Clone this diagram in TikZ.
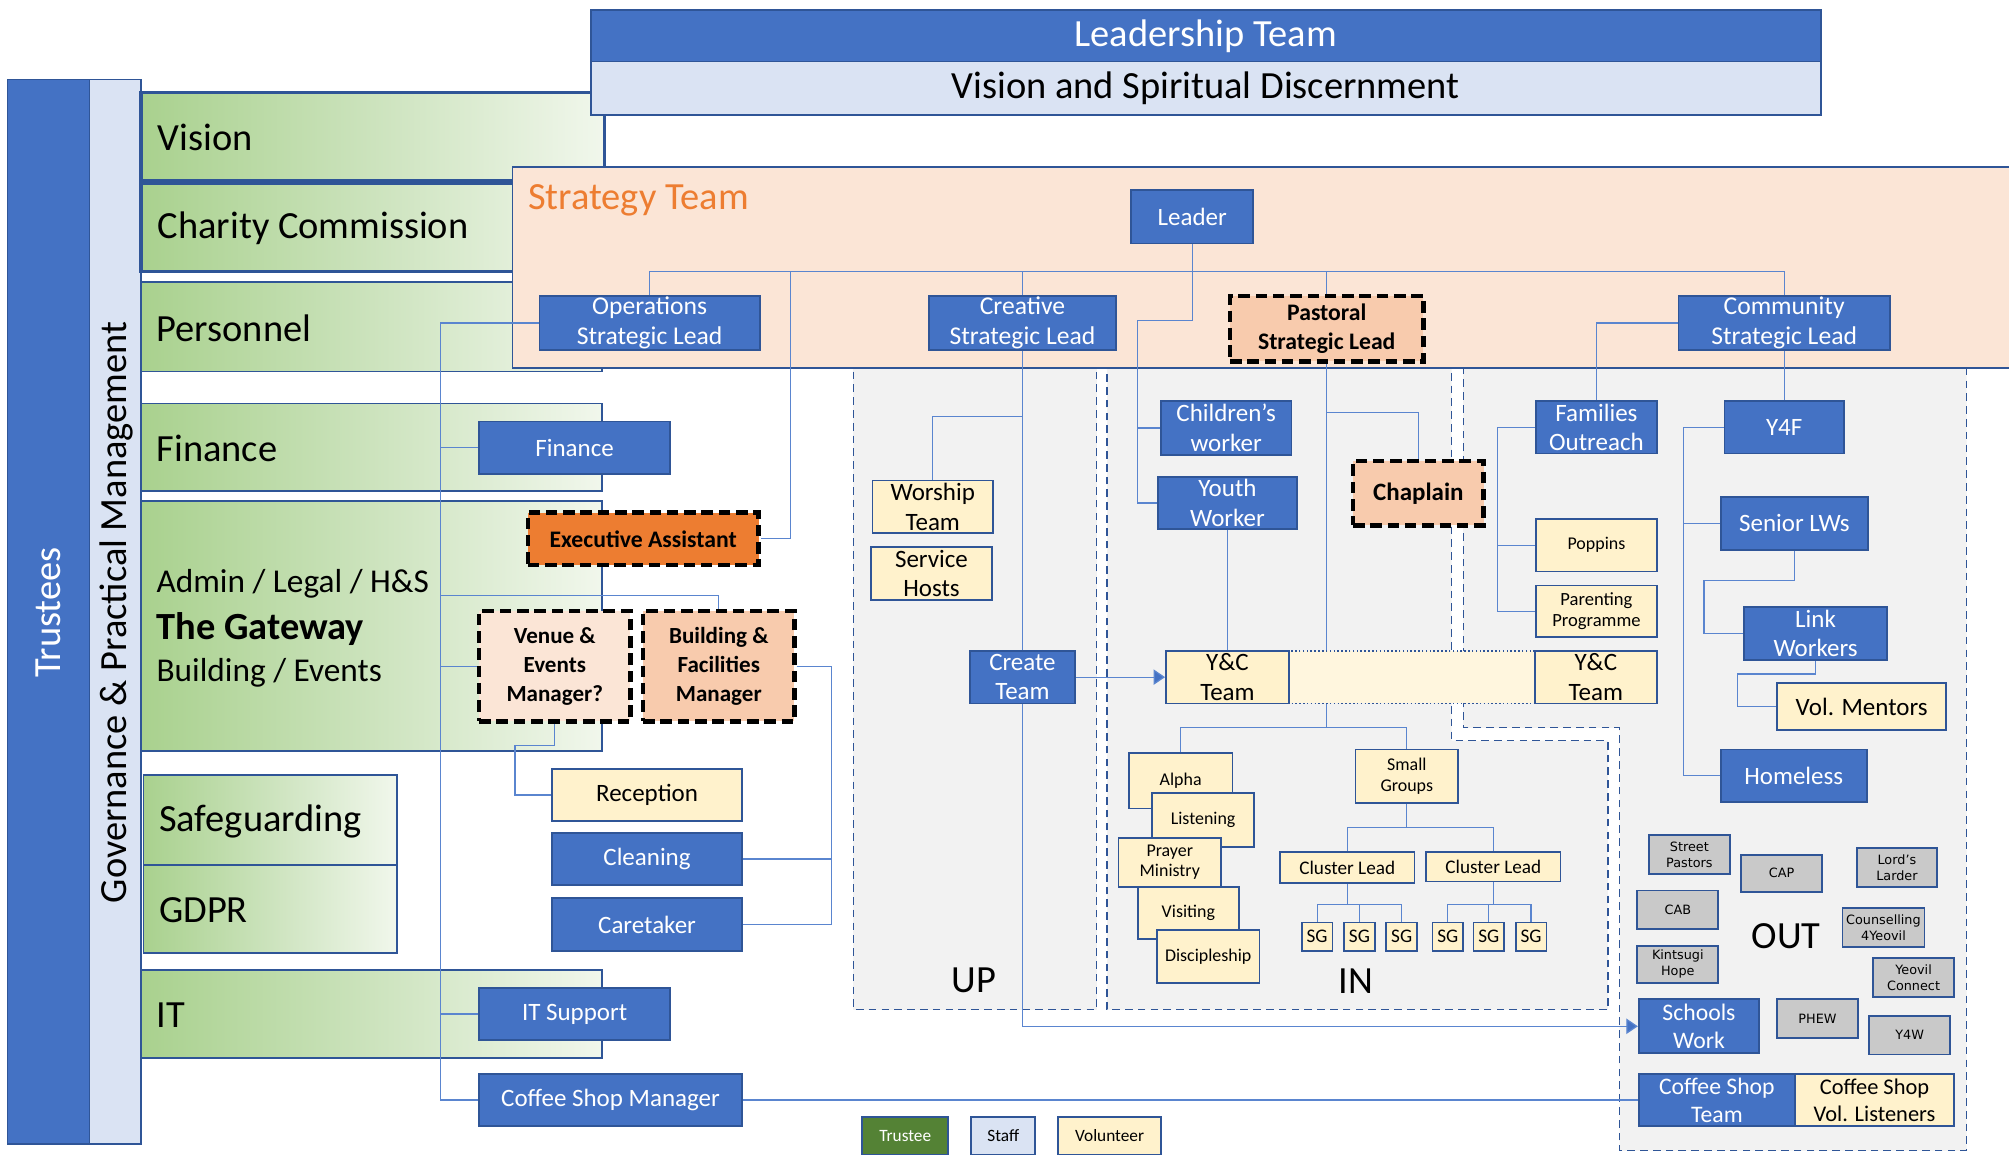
\documentclass[tikz,border=0pt]{standalone}
\usepackage{fontspec}
\setmainfont{Carlito}
\newfontfamily\gfont{DejaVu Sans}
\usetikzlibrary{arrows.meta}
\definecolor{blu}{HTML}{4472C4}
\definecolor{bord}{HTML}{2F5597}
\definecolor{lblu}{HTML}{DAE3F3}
\definecolor{yel}{HTML}{FFF2CC}
\definecolor{pch}{HTML}{FBE5D6}
\definecolor{pch2}{HTML}{F8CBAD}
\definecolor{org}{HTML}{ED7D31}
\definecolor{gry}{HTML}{C9C9C9}
\definecolor{reg}{HTML}{F2F2F2}
\definecolor{gA}{HTML}{A9D18E}
\definecolor{gB}{HTML}{CCE3BD}
\definecolor{gC}{HTML}{F1F7EC}
\definecolor{lnk}{HTML}{5A85CF}
\definecolor{trg}{HTML}{548235}
\definecolor{band}{HTML}{FFF6DE}
\pgfdeclarelayer{back}
\pgfdeclarelayer{lines}
\pgfsetlayers{back,lines,main}
\newcommand\myfs[2]{\fontsize{#1}{#2}\selectfont}
\newcommand\mybox[7]{%
  \pgfmathsetmacro\cbw{#5-#3}\pgfmathsetmacro\cbh{#6-#4}%
  \pgfmathsetmacro\cbx{(#3+#5)/2}\pgfmathsetmacro\cby{(#4+#6)/2}%
  \node[#1, minimum width=\cbw pt, minimum height=\cbh pt] (#2) at (\cbx,\cby) {#7};}
\tikzset{
  bx/.style={draw=bord, line width=1.4pt, inner sep=0pt, align=center, fill=blu, text=white, font=\myfs{19.5}{23}},
  yb/.style={bx, fill=yel, text=black},
  pb/.style={bx, fill=pch2, text=black},
  dsh/.style={draw=black, line width=3.5pt, dash pattern=on 9pt off 4.5pt},
  gb/.style={bx, fill=gry, text=black, line width=1.5pt, font=\gfont\myfs{10}{12.5}},
  sm/.style={yb, font=\myfs{14}{16}},
  grn/.style={draw=bord, line width=1.3pt, left color=gA, right color=gC, middle color=gB, inner sep=0pt},
  lbl/.style={anchor=west, inner sep=0pt, font=\myfs{30}{32}},
  rg/.style={fill=reg, draw=bord, line width=1.1pt, dash pattern=on 6pt off 4pt},
  ln/.style={draw=lnk, line width=1pt},
  arr/.style={ln, -{Triangle[length=9pt,width=12pt,fill=blu]}},
}
\begin{document}
\begin{tikzpicture}[x=1pt,y=-1pt]
\useasboundingbox (0,0) rectangle (1568,901);
\begin{pgfonlayer}{back}
\fill[white] (0,0) rectangle (1568,901);
% governance bars
\mybox{draw=bord, line width=1.2pt, fill=blu}{trbar}{6}{62}{70}{893}{}
\mybox{draw=bord, line width=1.2pt, fill=lblu}{gvbar}{70}{62}{110}{893}{}
% green boxes
\mybox{grn, line width=2.5pt}{gvis}{110}{72}{472}{141}{}
\mybox{grn, line width=2.5pt}{gcha}{110}{143}{472}{212}{}
\mybox{grn}{gper}{110}{220}{470}{290}{}
\mybox{grn}{gfin}{110}{315}{470}{383}{}
\mybox{grn}{gadm}{110}{391}{470}{586}{}
\mybox{grn}{gsaf}{112}{605}{310}{675}{}
\mybox{grn}{ggdp}{112}{675}{310}{744}{}
\mybox{grn}{git}{110}{757}{470}{826}{}
% regions
\path[rg] (666,280) rectangle (856,788);
\path[rg] (864,280) -- (1133,280) -- (1133,578) -- (1255,578) -- (1255,788) -- (864,788) -- cycle;
\path[rg] (1142,280) -- (1535,280) -- (1535,898) -- (1264,898) -- (1264,568) -- (1142,568) -- cycle;
% strategy band
\mybox{draw=bord, line width=1.5pt, fill=pch}{stband}{400}{130}{1580}{287}{}
% leadership
\mybox{draw=bord, line width=1.5pt, fill=blu, text=white, font=\myfs{30}{32}, inner sep=0pt}{lead}{461}{8}{1421}{48}{\raisebox{-2pt}{Leadership Team}}
\mybox{draw=bord, line width=1.5pt, fill=lblu, font=\myfs{30}{32}, inner sep=0pt}{vsd}{461}{48}{1421}{90}{\raisebox{-2pt}{Vision and Spiritual Discernment}}
\end{pgfonlayer}

% labels
\node[rotate=90, text=white, font=\myfs{30}{32}] (ttr) at (38,478) {Trustees};
\node[rotate=90, font=\myfs{30}{32}] (tgv) at (91,478) {Governance \& Practical Management};
\node[lbl] (tvis) at (123,107.5) {Vision};
\node[lbl] (tcha) at (123,178.5) {Charity Commission};
\node[lbl] (tper) at (122,256) {Personnel};
\node[lbl] (tfin) at (122,350) {Finance};
\node[lbl, font=\myfs{26}{28}] (tadm) at (122,456) {Admin / Legal / H\&S};
\node[lbl, font=\myfs{30}{32}\bfseries] (tgat) at (122,491) {The Gateway};
\node[lbl, font=\myfs{26}{28}] (tbui) at (122,525) {Building / Events};
\node[lbl] (tsaf) at (124,641) {Safeguarding};
\node[lbl] (tgdp) at (124,710.5) {GDPR};
\node[lbl] (tit) at (122,792.5) {IT};
\node[lbl, text=org] (tst) at (412,156) {Strategy Team};
\node[font=\myfs{30}{32}] (tup) at (760,765) {UP};
\node[font=\myfs{30}{32}] (tin) at (1058,766) {IN};
\node[font=\myfs{30}{32}] (tout) at (1394,731) {OUT};

% strategy team
\mybox{bx}{leader}{883}{148}{978}{190}{Leader}
\mybox{bx, font=\myfs{20}{24}}{ops}{421}{231}{593}{273}{Operations\\Strategic Lead}
\mybox{bx, font=\myfs{20}{24}}{cre}{725}{231}{871}{273}{Creative\\Strategic Lead}
\mybox{pb, dsh, font=\myfs{18.5}{23}\bfseries}{past}{960}{231}{1111}{282}{Pastoral\\Strategic Lead}
\mybox{bx, font=\myfs{20}{24}}{comm}{1310}{231}{1475}{273}{Community\\Strategic Lead}
% operations side
\mybox{bx}{fin}{374}{329}{523}{370}{Finance}
\mybox{bx, fill=org, text=black, dsh, font=\myfs{18.5}{22}\bfseries}{ea}{412}{400}{592}{441}{Executive Assistant}
\mybox{pb, fill=pch, dsh, font=\myfs{18}{22.5}\bfseries}{ven}{374}{477}{492}{563}{Venue \&\\Events\\Manager?}
\mybox{pb, dsh, font=\myfs{18}{22.5}\bfseries}{bf}{502}{477}{620}{563}{Building \&\\Facilities\\Manager}
\mybox{yb}{rec}{431}{600}{579}{641}{Reception}
\mybox{bx}{clean}{431}{650}{579}{691}{Cleaning}
\mybox{bx}{care}{431}{701}{579}{742}{Caretaker}
\mybox{bx}{its}{374}{771}{523}{812}{IT Support}
\mybox{bx}{csm}{374}{838}{579}{879}{Coffee Shop Manager}
% UP
\mybox{yb}{wor}{681}{375}{775}{416}{Worship\\Team}
\mybox{yb}{svc}{680}{427}{774}{468}{Service\\Hosts}
\mybox{bx}{create}{757}{508}{839}{549}{Create\\Team}
% IN
\mybox{bx}{child}{906}{313}{1008}{355}{Children’s\\worker}
\mybox{bx}{youth}{904}{372}{1012}{413}{Youth\\Worker}
\mybox{pb, dsh, font=\myfs{19.5}{22}\bfseries}{chap}{1056}{360}{1158}{410}{Chaplain}
\mybox{draw=bord, line width=1pt, dash pattern=on 1.2pt off 1.8pt, fill=band}{ycband}{1005}{508}{1198}{549}{}
\mybox{yb}{yc1}{910}{508}{1006}{549}{Y\&C\\Team}
\mybox{yb}{yc2}{1198}{508}{1293}{549}{Y\&C\\Team}
\mybox{sm}{alpha}{881}{588}{962}{631}{Alpha}
\mybox{sm}{lis}{899}{619}{979}{661}{Listening}
\mybox{sm}{pray}{873}{654}{953}{692}{Prayer\\Ministry}
\mybox{sm}{vis}{888}{692}{967}{733}{Visiting}
\mybox{sm}{disc}{903}{726}{983}{767}{Discipleship}
\mybox{sm}{smg}{1058}{585}{1138}{627}{Small\\Groups}
\mybox{sm, font=\myfs{15}{17}}{cl1}{999}{665}{1104}{689}{Cluster Lead}
\mybox{sm, font=\myfs{15}{17}}{cl2}{1113}{665}{1218}{688}{Cluster Lead}
\mybox{sm, font=\myfs{15}{17}}{sga}{1016}{720}{1040}{742}{SG}
\mybox{sm, font=\myfs{15}{17}}{sgb}{1049}{720}{1073}{742}{SG}
\mybox{sm, font=\myfs{15}{17}}{sgc}{1082}{720}{1106}{742}{SG}
\mybox{sm, font=\myfs{15}{17}}{sgd}{1118}{720}{1142}{742}{SG}
\mybox{sm, font=\myfs{15}{17}}{sge}{1150}{720}{1174}{742}{SG}
\mybox{sm, font=\myfs{15}{17}}{sgf}{1183}{720}{1207}{742}{SG}
% OUT
\mybox{bx}{fam}{1199}{313}{1293}{354}{Families\\Outreach}
\mybox{sm}{pop}{1199}{405}{1293}{446}{Poppins}
\mybox{sm, font=\myfs{14.5}{16.5}}{par}{1199}{457}{1293}{497}{Parenting\\Programme}
\mybox{bx}{y4f}{1346}{313}{1439}{354}{Y4F}
\mybox{bx}{slw}{1343}{388}{1458}{429}{Senior LWs}
\mybox{bx}{lw}{1361}{474}{1473}{515}{Link\\Workers}
\mybox{yb}{vm}{1387}{533}{1519}{570}{Vol. Mentors}
\mybox{bx}{home}{1343}{585}{1457}{626}{Homeless}
\mybox{gb}{stp}{1287}{652}{1350}{682}{Street\\Pastors}
\mybox{gb}{cap}{1359}{667}{1422}{696}{CAP}
\mybox{gb}{lord}{1449}{662}{1512}{692}{Lord’s\\Larder}
\mybox{gb}{cab}{1278}{695}{1341}{725}{CAB}
\mybox{gb}{coun}{1438}{709}{1502}{739}{Counselling\\4Yeovil}
\mybox{gb}{kin}{1278}{738}{1341}{767}{Kintsugi\\Hope}
\mybox{gb}{yco}{1462}{748}{1525}{778}{Yeovil\\Connect}
\mybox{gb}{phew}{1387}{780}{1450}{810}{PHEW}
\mybox{gb}{y4w}{1459}{793}{1522}{823}{Y4W}
\mybox{bx, font=\myfs{18.5}{22}}{school}{1279}{780}{1373}{822}{Schools\\Work}
\mybox{bx, font=\myfs{18.5}{22}}{cst}{1279}{838}{1401}{879}{Coffee Shop\\Team}
\mybox{yb, font=\myfs{17.5}{21}}{cvl}{1401}{838}{1525}{879}{Coffee Shop\\Vol. Listeners}
% legend
\mybox{bx, fill=trg, font=\myfs{13.5}{16}}{lgt}{673}{872}{740}{901}{Trustee}
\mybox{bx, fill=lblu, text=black, font=\myfs{13.5}{16}}{lgs}{758}{872}{808}{901}{Staff}
\mybox{yb, font=\myfs{13.5}{16}}{lgv}{826}{872}{906}{901}{Volunteer}

\begin{pgfonlayer}{lines}
% leader bus
\coordinate (bus) at (0,212);
\draw[ln] (ops.north) -- (ops.north |- bus) -| (comm.north);
\draw[ln] (cre.north) -- (cre.north |- bus);
\draw[ln] (past.north) -- (past.north |- bus);
\coordinate (ldr1) at (930.5,250);
\coordinate (cw) at (888,250);
\draw[ln] (leader.south) -- (ldr1) -- (cw) |- (youth.west);
\draw[ln] (child.west -| cw) -- (child.west);
\coordinate (ea1) at (617,212);
\draw[ln] (ea.east) -| (ea1);
% trunk
\coordinate (tr) at (344,252);
\draw[ln] (ops.west) -- (tr) |- (csm.west);
\draw[ln] (fin.west -| tr) -- (fin.west);
\draw[ln] (ven.west -| tr) -- (ven.west);
\draw[ln] (its.west -| tr) -- (its.west);
\coordinate (bf1) at (344,465);
\draw[ln] (bf1) -| (bf.north);
\coordinate (v1) at (433,582);
\coordinate (v2) at (402,582);
\draw[ln] (ven.south) -- (v1) -- (v2) |- (rec.west);
\coordinate (b1) at (649,520);
\draw[ln] (bf.east) -- (b1) |- (care.east);
\draw[ln] (clean.east) -- (clean.east -| b1);
\draw[ln] (csm.east) -- (cst.west);
% creative
\draw[ln] (cre.south) -- (create.north);
\coordinate (w1) at (798,325);
\draw[ln] (w1) -| (wor.north);
\draw[arr] (create.east) -- (yc1.west);
\draw[arr] (create.south) |- (school.west);
% pastoral
\coordinate (p1) at (1035.5,568);
\draw[ln] (past.south) -- (p1);
\draw[ln] (alpha.north) |- (p1) -| (smg.north);
\coordinate (p2) at (1035.5,322);
\draw[ln] (p2) -| (chap.north);
\draw[ln] (youth.south) -- (youth.south |- yc1.north);
\coordinate (s1) at (1098,646);
\draw[ln] (smg.south) -- (s1);
\draw[ln] (cl1.north) |- (s1) -| (cl2.north);
\coordinate (c1) at (1051.5,706);
\draw[ln] (cl1.south) -- (c1);
\draw[ln] (sga.north) |- (c1) -| (sgc.north);
\draw[ln] (sgb.north) -- (sgb.north |- c1);
\coordinate (c2) at (1165.5,706);
\draw[ln] (cl2.south) -- (c2);
\draw[ln] (sgd.north) |- (c2) -| (sgf.north);
\draw[ln] (sge.north) -- (sge.north |- c2);
% community
\draw[ln] (comm.south) -- (y4f.north);
\draw[ln] (comm.west) -| (fam.north);
\coordinate (f1) at (1169,333.5);
\draw[ln] (fam.west) -- (f1) |- (par.west);
\draw[ln] (pop.west -| f1) -- (pop.west);
\coordinate (y1) at (1314,333.5);
\draw[ln] (y4f.west) -- (y1) |- (home.west);
\draw[ln] (slw.west -| y1) -- (slw.west);
\coordinate (l1) at (1400.5,453);
\coordinate (l2) at (1330,453);
\draw[ln] (slw.south) -- (l1) -- (l2) |- (lw.west);
\coordinate (m1) at (1417,526);
\coordinate (m2) at (1356,526);
\draw[ln] (lw.south) -- (m1) -- (m2) |- (vm.west);
\end{pgfonlayer}
\end{tikzpicture}
\end{document}
